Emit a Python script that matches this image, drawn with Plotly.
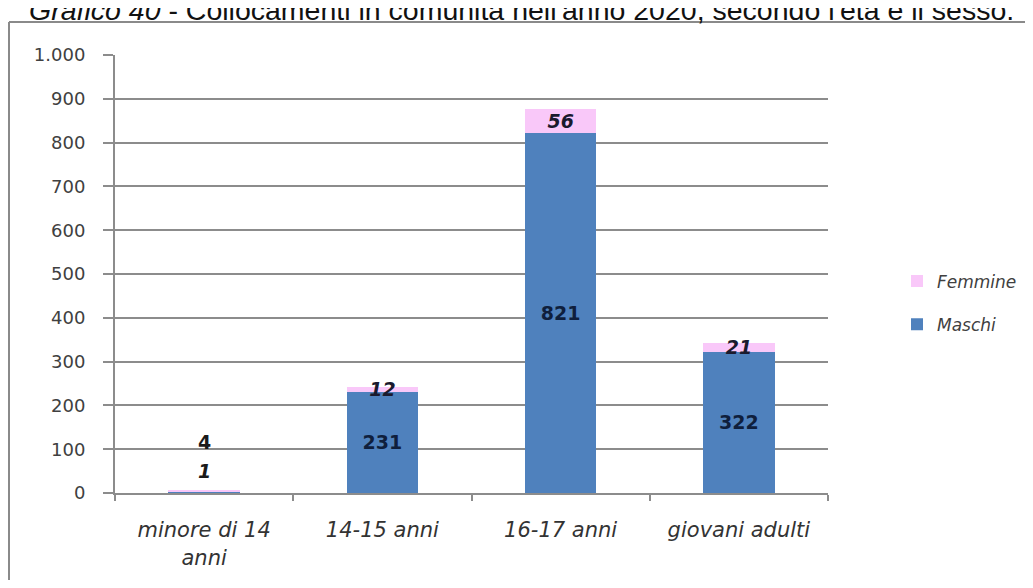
import plotly.graph_objects as go

categories = ["minore di 14<br>anni", "14-15 anni", "16-17 anni", "giovani adulti"]
maschi = [4, 231, 821, 322]
femmine = [1, 12, 56, 21]
y_ticks = [0, 100, 200, 300, 400, 500, 600, 700, 800, 900, 1000]
title_text = "<i>Grafico 40</i> - Collocamenti in comunità nell'anno 2020, secondo l'età e il sesso."

# page body has an 8px margin; work in page pixels and convert
OFF = 8
W, H = 1017, 572
L, R, T, B = 107, 197, 47, 87
pw, ph = W - L - R, H - T - B


def px_x(px):
    return (px - OFF - L) / pw


def px_y(py):
    return (H - B - (py - OFF)) / ph


GRID = "#8c8c8c"
FONT = "DejaVu Sans"

fig = go.Figure()
fig.add_bar(
    name="Maschi", x=categories, y=maschi, marker_color="#4F81BD",
    marker_line_width=0,
    text=[""] + [str(v) for v in maschi[1:]],
    textposition="inside", insidetextanchor="middle", textangle=0,
    textfont=dict(family=FONT, size=19, color="#0f1f3d", weight="bold"),
    legendgroup="m", legendrank=2, hoverinfo="skip",
)
fig.add_bar(
    name="Femmine", x=categories, y=femmine, marker_color="#F9C8F9",
    marker_line_width=0,
    text=[""] + [str(v) for v in femmine[1:]],
    textposition="inside", insidetextanchor="middle", textangle=0,
    textfont=dict(family=FONT, size=19, color="#1a1a2e", weight="bold", style="italic"),
    legendgroup="f", legendrank=1, hoverinfo="skip",
)

annotations = [
    dict(x=categories[0], y=maschi[0] + femmine[0], xref="x", yref="y",
         text=str(maschi[0]), showarrow=False, yanchor="middle", yshift=49,
         font=dict(family=FONT, size=19, color="#1a1a1a", weight="bold")),
    dict(x=categories[0], y=maschi[0] + femmine[0], xref="x", yref="y",
         text=str(femmine[0]), showarrow=False, yanchor="middle", yshift=20,
         font=dict(family=FONT, size=19, color="#1a1a1a", weight="bold", style="italic")),
    dict(x=px_x(521), y=px_y(10), xref="paper", yref="paper", text=title_text,
         showarrow=False, xanchor="center", yanchor="middle",
         font=dict(family="Liberation Sans", size=28.5, color="#111111")),
]

shapes = [
    dict(type="line", xref="paper", yref="paper", x0=px_x(9), x1=px_x(9),
         y0=px_y(700), y1=px_y(22), line=dict(color="#8a8a8a", width=2)),
    dict(type="line", xref="paper", yref="paper", x0=px_x(9), x1=px_x(1100),
         y0=px_y(22), y1=px_y(22), line=dict(color="#8a8a8a", width=2)),
]

fig.update_layout(
    width=W, height=H, autosize=False,
    margin=dict(l=L, r=R, t=T, b=B, autoexpand=False),
    paper_bgcolor="white", plot_bgcolor="white",
    barmode="stack", bargap=0.6,
    separators=",.",
    uniformtext=dict(minsize=19, mode="show"),
    showlegend=True,
    legend=dict(x=px_x(897), y=px_y(303), xanchor="left", yanchor="middle",
                traceorder="grouped", tracegroupgap=18,
                font=dict(family=FONT, size=17, color="#404040", style="italic"),
                itemwidth=30),
    annotations=annotations,
    shapes=shapes,
    font=dict(family=FONT),
)
fig.update_yaxes(
    range=[0, 1000], tickvals=y_ticks, tickformat=",d",
    showgrid=True, gridcolor=GRID, gridwidth=1.8, zeroline=False,
    showline=True, linecolor=GRID, linewidth=2,
    ticks="outside", ticklen=10, tickcolor=GRID, tickwidth=1.5,
    tickfont=dict(family=FONT, size=18, color="#404040"),
    ticklabelstandoff=14,
)
fig.update_xaxes(
    showline=True, linecolor=GRID, linewidth=2,
    ticks="outside", tickson="boundaries", ticklen=6, tickcolor=GRID, tickwidth=1.5,
    tickfont=dict(family=FONT, size=21, color="#333333", style="italic"),
    ticklabelstandoff=17,
)

fig.write_html("out.html")
